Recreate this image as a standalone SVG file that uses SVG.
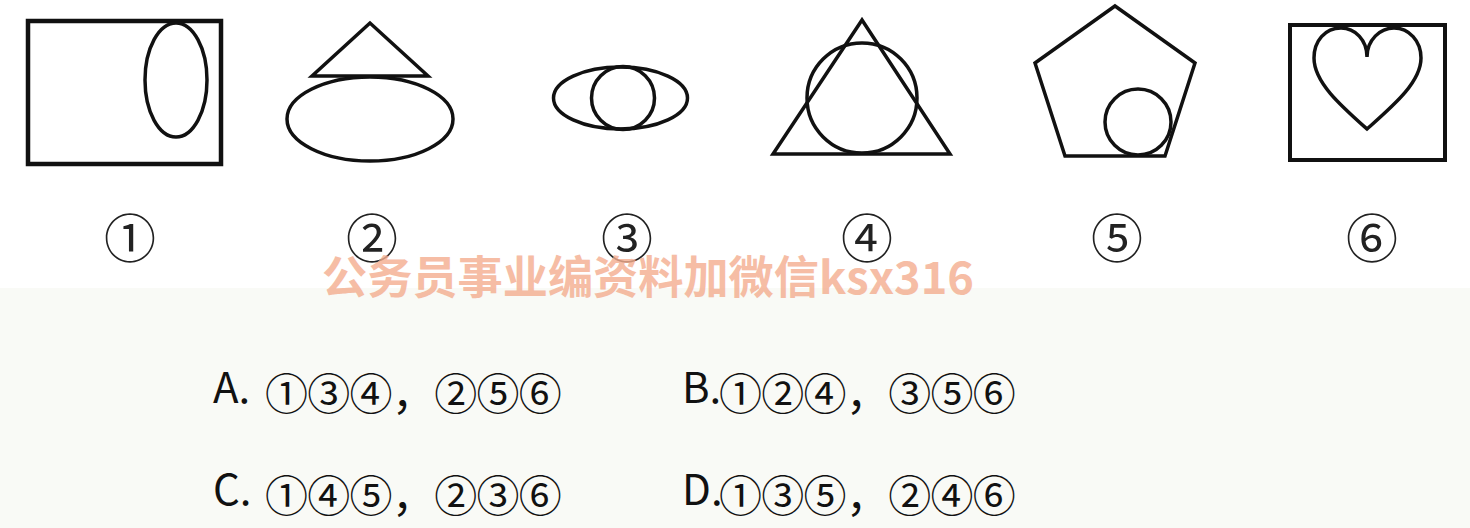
<svg xmlns="http://www.w3.org/2000/svg" width="1470" height="528" viewBox="0 0 1470 528">
<style>
.s{fill:none;stroke:#111;stroke-width:3.5;stroke-linejoin:miter}
.lbl{font-family:"Noto Sans CJK SC","DejaVu Sans",sans-serif;font-size:52px;fill:#222;text-anchor:middle}
.opt{font-family:"Noto Sans CJK SC","DejaVu Sans",sans-serif;font-size:42px;fill:#111}
.num{font-family:"Noto Sans CJK SC","DejaVu Sans",sans-serif;font-size:43px;letter-spacing:-0.7px;fill:#111}
.wm{font-family:"Noto Sans CJK SC","DejaVu Sans",sans-serif;font-size:45px;font-weight:bold;fill:#f4ad8f;opacity:0.8}
</style>
<rect x="0" y="0" width="1470" height="528" fill="#ffffff"/>
<rect x="0" y="288" width="1470" height="240" fill="#f9faf6"/>
<g id="fig1">
<rect class="s" x="28" y="21" width="193" height="143" style="stroke-width:4.5"/>
<ellipse class="s" cx="176" cy="80" rx="31" ry="57"/>
<text class="lbl" x="130" y="258">①</text>
</g>
<g id="fig2">
<polygon class="s" points="370,23 312,76 428,76"/>
<ellipse class="s" cx="370" cy="119" rx="83" ry="42"/>
<text class="lbl" x="372" y="258">②</text>
</g>
<g id="fig3">
<ellipse class="s" cx="620.5" cy="98" rx="67" ry="31"/>
<circle class="s" cx="623" cy="98" r="31.5"/>
<text class="lbl" x="627" y="258">③</text>
</g>
<g id="fig4">
<polygon class="s" points="862,20 773,154 950,154"/>
<circle class="s" cx="862" cy="98" r="55"/>
<text class="lbl" x="867" y="258">④</text>
</g>
<g id="fig5">
<polygon class="s" points="1115,6 1195,63 1165,156 1065,156 1035,63"/>
<circle class="s" cx="1138" cy="122" r="33"/>
<text class="lbl" x="1117" y="258">⑤</text>
</g>
<g id="fig6">
<rect class="s" x="1290" y="25" width="155" height="135" style="stroke-width:4"/>
<path class="s" d="M1367,57 C1367,40 1355,28 1341,28 C1325,28 1314,41 1314,58 C1314,82 1340,105 1367,129 C1394,105 1421,82 1421,58 C1421,41 1409,28 1394,28 C1380,28 1367,40 1367,57 Z"/>
<text class="lbl" x="1372" y="258">⑥</text>
</g>
<text class="wm" x="322" y="294" textLength="652" lengthAdjust="spacingAndGlyphs">公务员事业编资料加微信ksx316</text>
<g id="options">
<text class="opt" x="213" y="403">A.</text>
<text class="num" x="265" y="410">①③④，②⑤⑥</text>
<text class="opt" x="682" y="403">B.</text>
<text class="num" x="719" y="410">①②④，③⑤⑥</text>
<text class="opt" x="213" y="505">C.</text>
<text class="num" x="265" y="512">①④⑤，②③⑥</text>
<text class="opt" x="682" y="505">D.</text>
<text class="num" x="719" y="512">①③⑤，②④⑥</text>
</g>
</svg>
